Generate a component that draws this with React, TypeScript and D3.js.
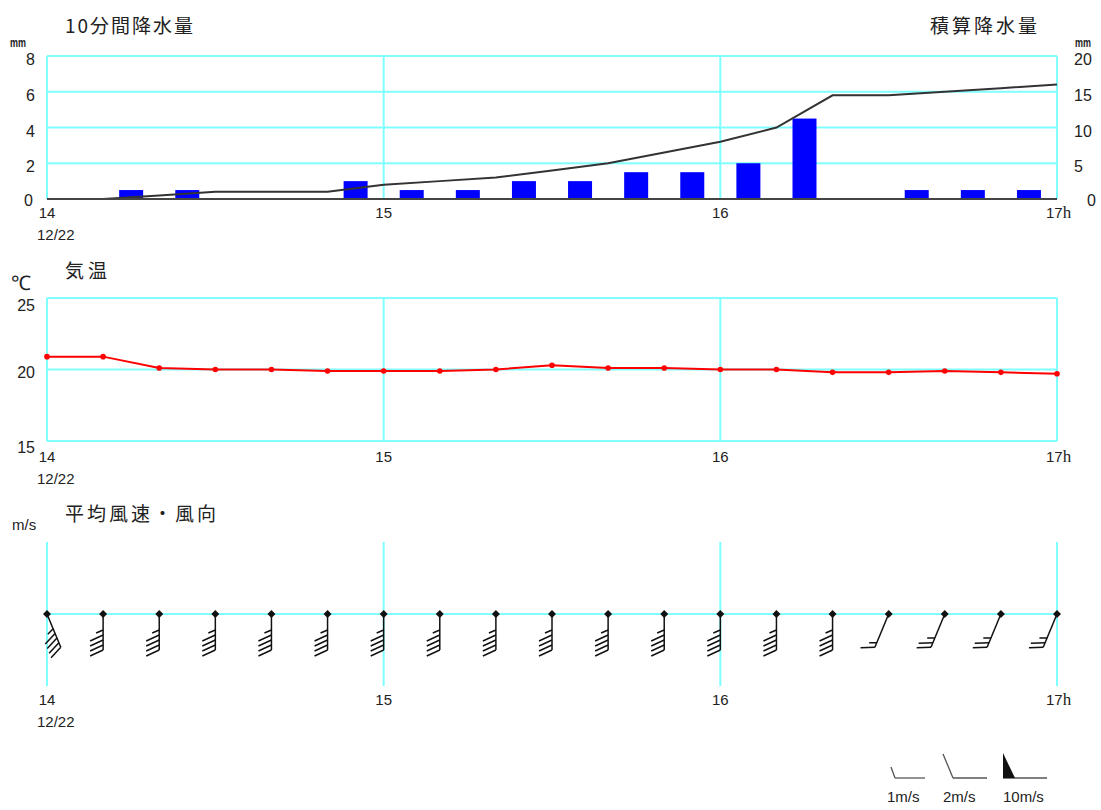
import * as d3 from "d3";

// 10-minute observations, 12/22 14:00 - 17:00
const times = ["14:00", "14:10", "14:20", "14:30", "14:40", "14:50", "15:00", "15:10", "15:20", "15:30",
  "15:40", "15:50", "16:00", "16:10", "16:20", "16:30", "16:40", "16:50", "17:00"];
// precipitation (mm) in the 10 minutes ending at each time
const rain10 = [0, 0, 0.5, 0.5, 0, 0, 1.0, 0.5, 0.5, 1.0, 1.0, 1.5, 1.5, 2.0, 4.5, 0, 0.5, 0.5, 0.5];
const rainCum = [0, 0, 0.5, 1.0, 1.0, 1.0, 2.0, 2.5, 3.0, 4.0, 5.0, 6.5, 8.0, 10.0, 14.5, 14.5, 15.0, 15.5, 16.0];
const temp = [20.9, 20.9, 20.1, 20.0, 20.0, 19.9, 19.9, 19.9, 20.0, 20.3, 20.1, 20.1, 20.0, 20.0, 19.8, 19.8, 19.9, 19.8, 19.7];
const windDir = ["SSE", "S", "S", "S", "S", "S", "S", "S", "S", "S", "S", "S", "S", "S", "S", "SSW", "SSW", "SSW", "SSW"];
const windSpeed = [9, 9, 9, 9, 9, 9, 9, 9, 9, 9, 9, 9, 9, 9, 9, 3, 5, 5, 5];

const hourTicks = ["14:00", "15:00", "16:00", "17:00"];
const rainTicks = [0, 2, 4, 6, 8];
const cumTicks = [0, 5, 10, 15, 20];
const tempTicks = [15, 20, 25];
const compass = ["N", "NNE", "NE", "ENE", "E", "ESE", "SE", "SSE", "S", "SSW", "SW", "WSW", "W", "WNW", "NW", "NNW"];

const CYAN = "#80ffff";
const TXT = "#222";
const NUM = "'Liberation Sans', Arial, sans-serif";
const JP = "'Noto Sans CJK JP', sans-serif";

const parse = d3.timeParse("%H:%M");
const x = d3.scaleTime().domain([parse("14:00"), parse("17:00")]).range([47, 1057]);
const yRain = d3.scaleLinear().domain([0, 8]).range([199, 56]);
const yCum = d3.scaleLinear().domain([0, 20]).range([199, 56]);
const yTemp = d3.scaleLinear().domain([15, 25]).range([441, 298]);
const yWind = 614;

const tx = (t) => x(parse(t));

// wind barb: staff points toward where the wind comes from
function Barb({ cx, cy, dir, speed }) {
  const ang = compass.indexOf(dir) * 22.5;
  const L = 36;
  let s = Math.round(speed);
  const parts = [];
  let pos = L;
  while (s >= 10) { parts.push("p"); s -= 10; }
  while (s >= 2) { parts.push("f"); s -= 2; }
  if (s === 1) parts.push("h");
  const els = [];
  parts.forEach((p, i) => {
    if (p === "p") {
      els.push(<path key={i} d={`M0,${pos}L-12,${pos + 4}L0,${pos - 6}Z`} fill="#111" />);
      pos -= 8;
    } else if (p === "f") {
      els.push(<line key={i} x1={0} y1={pos} x2={-13} y2={pos + 6} />);
      pos -= 5;
    } else {
      els.push(<line key={i} x1={0} y1={pos} x2={-7} y2={pos + 3} />);
      pos -= 5;
    }
  });
  return (
    <g transform={`translate(${cx},${cy}) rotate(${ang - 180})`} stroke="#111" strokeWidth={1.5}>
      <line x1={0} y1={0} x2={0} y2={L} />
      {els}
    </g>
  );
}

function HourLabels({ y, first }) {
  return (
    <g fontFamily={NUM} fontSize={15} fill={TXT}>
      {hourTicks.map((t, i) =>
        i === hourTicks.length - 1 ? (
          <text key={t} x={tx(t) - 11} y={y}>{t.slice(0, 2)}<tspan fontFamily="'Liberation Serif', serif" fontSize={17}>h</tspan></text>
        ) : (
          <text key={t} x={tx(t)} y={y} textAnchor="middle">{t.slice(0, 2)}</text>
        )
      )}
      {first && <text x={37} y={y + 22}>12/22</text>}
    </g>
  );
}

export default function App() {
  const cumLine = d3.line().x((d, i) => tx(times[i])).y((d) => yCum(d));
  const tempLine = d3.line().x((d, i) => tx(times[i])).y((d) => yTemp(d));
  const barW = 24;
  const halfStep = (x(parse("14:10")) - x(parse("14:00"))) / 2;

  return (
    <svg width={1101} height={810} style={{ position: "absolute", left: 0, top: 0, background: "#fff" }}>
      {/* ---------- precipitation ---------- */}
      <text x={65} y={33} fontFamily={JP} fontSize={19} fill={TXT} textLength={128} lengthAdjust="spacing">10分間降水量</text>
      <text x={930} y={33} fontFamily={JP} fontSize={19} fill={TXT} textLength={107} lengthAdjust="spacing">積算降水量</text>
      <text x={10} y={47} fontFamily={NUM} fontSize={13} fontWeight="bold" fill={TXT} textLength={16} lengthAdjust="spacingAndGlyphs">mm</text>
      <text x={1075} y={47} fontFamily={NUM} fontSize={13} fontWeight="bold" fill={TXT} textLength={16} lengthAdjust="spacingAndGlyphs">mm</text>

      {rainTicks.filter((t) => t > 0 && t < 8).map((t) => (
        <line key={t} x1={47} x2={1057} y1={yRain(t)} y2={yRain(t)} stroke={CYAN} strokeWidth={2} />
      ))}
      <line x1={47} x2={1057} y1={56} y2={56} stroke={CYAN} strokeWidth={2} />
      {hourTicks.map((t) => (
        <line key={t} x1={tx(t)} x2={tx(t)} y1={56} y2={199} stroke={CYAN} strokeWidth={2} />
      ))}
      {rain10.map((v, i) =>
        v > 0 ? (
          <rect key={i} x={tx(times[i]) - halfStep - barW / 2} y={yRain(v)} width={barW} height={yRain(0) - yRain(v)} fill="#0000ff" />
        ) : null
      )}
      <path d={cumLine(rainCum)} fill="none" stroke="#333" strokeWidth={2} />
      <line x1={47} x2={1057} y1={199} y2={199} stroke="#444" strokeWidth={2} />

      <g fontFamily={NUM} fontSize={16} fill={TXT}>
        {rainTicks.map((t) => (
          <text key={t} x={t === 0 ? 33 : 35} y={yRain(t) + (t === 0 ? 7 : 9)} textAnchor="end">{t}</text>
        ))}
        {cumTicks.map((t) => (
          <text key={t} x={t === 0 ? 1087 : 1074} y={yCum(t) + (t === 0 ? 7 : 9)}>{t}</text>
        ))}
      </g>
      <HourLabels y={218} first />

      {/* ---------- temperature ---------- */}
      <text x={11} y={290} fontFamily={NUM} fontSize={20} fill={TXT}>℃</text>
      <text x={65} y={278} fontFamily={JP} fontSize={19} fill={TXT} textLength={42} lengthAdjust="spacing">気温</text>
      {tempTicks.map((t) => (
        <line key={t} x1={47} x2={1057} y1={yTemp(t)} y2={yTemp(t)} stroke={CYAN} strokeWidth={2} />
      ))}
      {hourTicks.map((t) => (
        <line key={t} x1={tx(t)} x2={tx(t)} y1={298} y2={441} stroke={CYAN} strokeWidth={2} />
      ))}
      <path d={tempLine(temp)} fill="none" stroke="#ff0000" strokeWidth={2} />
      {temp.map((v, i) => (
        <circle key={i} cx={tx(times[i])} cy={yTemp(v)} r={2.8} fill="#ff0000" />
      ))}
      <g fontFamily={NUM} fontSize={16} fill={TXT}>
        {tempTicks.map((t) => (
          <text key={t} x={35} y={t === 15 ? 453 : yTemp(t) + (t === 25 ? 13 : 8)} textAnchor="end">{t}</text>
        ))}
      </g>
      <HourLabels y={462} first />

      {/* ---------- wind ---------- */}
      <text x={12} y={530} fontFamily={NUM} fontSize={15} fill={TXT}>m/s</text>
      <text x={65} y={521} fontFamily={JP} fontSize={19} fill={TXT} textLength={151} lengthAdjust="spacing">平均風速・風向</text>
      {hourTicks.map((t) => (
        <line key={t} x1={tx(t)} x2={tx(t)} y1={542} y2={686} stroke={CYAN} strokeWidth={2} />
      ))}
      <line x1={47} x2={1057} y1={yWind} y2={yWind} stroke={CYAN} strokeWidth={2} />
      {times.map((t, i) => (
        <g key={t}>
          <Barb cx={tx(t)} cy={yWind} dir={windDir[i]} speed={windSpeed[i]} />
          <path d={`M${tx(t)},${yWind - 4}l4,4l-4,4l-4,-4Z`} fill="#111" />
        </g>
      ))}
      <HourLabels y={705} first />

      {/* ---------- legend ---------- */}
      <g stroke="#555" strokeWidth={1.3} fill="none">
        <line x1={895} y1={778} x2={925} y2={778} />
        <line x1={895} y1={778} x2={891} y2={767} />
        <line x1={953} y1={778} x2={987} y2={778} />
        <line x1={953} y1={778} x2={943} y2={754} />
        <line x1={1003} y1={778} x2={1047} y2={778} />
      </g>
      <path d="M1003,753L1003,778L1015,778Z" fill="#111" />
      <g fontFamily={NUM} fontSize={15} fill={TXT}>
        <text x={887} y={802}>1m/s</text>
        <text x={943} y={802}>2m/s</text>
        <text x={1003} y={802}>10m/s</text>
      </g>
    </svg>
  );
}
